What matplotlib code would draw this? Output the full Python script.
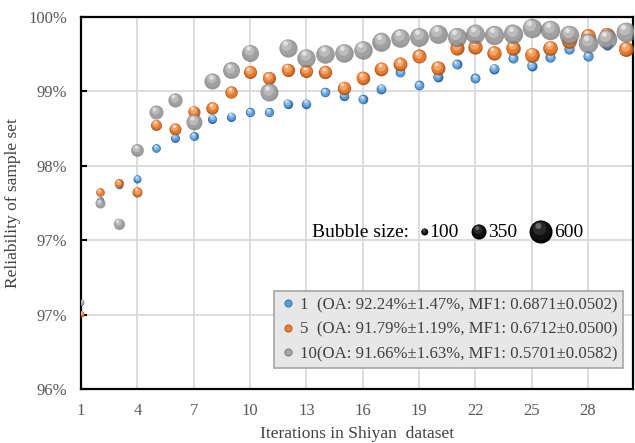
import matplotlib
matplotlib.use('Agg')
import matplotlib.pyplot as plt
from matplotlib.transforms import ScaledTranslation
from matplotlib.offsetbox import AnchoredOffsetbox, HPacker, TextArea, DrawingArea
from matplotlib.patches import Circle
from matplotlib.lines import Line2D

# data
iterations = list(range(1, 31))

blue_rel = [96.73, 97.91, 98.08, 98.15, 98.50, 98.62, 98.64, 98.84, 98.86, 98.91,
            98.91, 99.01, 99.01, 99.14, 99.10, 99.06, 99.18, 99.37, 99.22, 99.32,
            99.46, 99.30, 99.41, 99.53, 99.44, 99.54, 99.63, 99.55, 99.68, 99.64]
orange_rel = [96.61, 98.00, 98.10, 98.00, 98.77, 98.72, 98.92, 98.96, 99.14, 99.37,
              99.30, 99.40, 99.38, 99.37, 99.19, 99.30, 99.41, 99.46, 99.55, 99.42,
              99.65, 99.66, 99.59, 99.65, 99.57, 99.65, 99.73, 99.78, 99.79, 99.63]
gray_rel = [96.74, 97.87, 97.64, 98.48, 98.91, 99.05, 98.80, 99.27, 99.39, 99.59,
            99.14, 99.65, 99.53, 99.58, 99.59, 99.62, 99.72, 99.76, 99.77, 99.81,
            99.77, 99.81, 99.79, 99.81, 99.87, 99.85, 99.79, 99.70, 99.75, 99.83]

blue_size = [40, 100, 120, 130, 150, 160, 160, 165, 165, 170,
             170, 175, 175, 180, 180, 180, 185, 185, 185, 190,
             190, 190, 195, 195, 195, 200, 200, 200, 200, 205]
orange_size = [70, 150, 160, 195, 225, 255, 260, 270, 270, 290,
               290, 295, 295, 300, 300, 305, 310, 315, 320, 320,
               325, 330, 330, 335, 340, 340, 345, 345, 350, 350]
gray_size = [70, 195, 225, 280, 320, 325, 380, 385, 410, 415,
             445, 450, 455, 460, 460, 460, 465, 465, 470, 470,
             480, 480, 485, 485, 490, 490, 490, 495, 495, 500]

series_labels = ['1  (OA: 92.24%\u00b11.47%, MF1: 0.6871\u00b10.0502)',
                 '5  (OA: 91.79%\u00b11.19%, MF1: 0.6712\u00b10.0500)',
                 '10(OA: 91.66%\u00b11.63%, MF1: 0.5701\u00b10.0582)']
bubble_legend_sizes = [100, 350, 600]

y_ticks = [95.75, 96.6, 97.45, 98.3, 99.15, 100]
x_ticks = list(range(1, 30, 3))

# colours: dark rim, body, light, highlight
blue_cols = ['#2f6aa3', '#5b9bd5', '#8fbde6', '#d6e8f7']
orange_cols = ['#a9531b', '#ed7d31', '#f4a76e', '#fbe0c9']
gray_cols = ['#6f6f6f', '#a5a5a5', '#c6c6c6', '#f0f0f0']
black_cols = ['#000000', '#111111', '#2a2a2a', '#6a6a6a']

serif = 'Liberation Serif'


def diam_pt(size):
    # bubble width grows linearly with size (px), converted to points
    return (3.8 + 0.032 * size) * 72 / 100


layers = [(1.0, 0.0), (0.86, 0.06), (0.58, 0.15), (0.26, 0.26)]


def draw_ball(ax, fig, x, y, size, cols, alpha):
    d = diam_pt(size)
    for (f, off), c in zip(layers, cols):
        tr = ax.transData + ScaledTranslation(-0.45 * off * d / 72, off * d / 72,
                                              fig.dpi_scale_trans)
        ax.scatter([x], [y], s=(f * d) ** 2, color=c, lw=0, transform=tr,
                   alpha=alpha, zorder=3)


fig = plt.figure(figsize=(6.35, 4.43), dpi=100)
ax = fig.add_axes([0.1276, 0.1219, 0.8693, 0.8397])

ax.set_xlim(1, 30.4)
ax.set_ylim(95.75, 100)

for rel, size, cols, alpha in [(blue_rel, blue_size, blue_cols, 1.0),
                               (orange_rel, orange_size, orange_cols, 0.92),
                               (gray_rel, gray_size, gray_cols, 0.72)]:
    for x, y, s in zip(iterations, rel, size):
        draw_ball(ax, fig, x, y, s, cols, alpha)

ax.set_yticks(y_ticks)
ax.set_yticklabels(['{:.0f}%'.format(v) for v in y_ticks])
ax.set_xticks(x_ticks)
ax.grid(color='#d9d9d9', lw=1.3)
ax.set_axisbelow(True)
ax.tick_params(axis='y', direction='in', length=4, width=1.5, color='black',
               labelcolor='#595959', labelsize=12, pad=10)
ax.tick_params(axis='x', length=0, labelcolor='#595959', labelsize=12, pad=10)
for lab in ax.get_xticklabels() + ax.get_yticklabels():
    lab.set_family(serif)
for sp in ax.spines.values():
    sp.set_color('black')
    sp.set_linewidth(1.6)

ax.set_ylabel('Reliability of sample set', family=serif, fontsize=12.5,
              color='#404040', labelpad=5)
ax.set_xlabel('Iterations in Shiyan  dataset', family=serif, fontsize=12.5,
              color='#404040', labelpad=5)

# series legend
handles = [Line2D([], [], ls='none', marker='o', markersize=5.2,
                  markerfacecolor=c[1], markeredgecolor=c[0], markeredgewidth=0.6)
           for c in [blue_cols, orange_cols, gray_cols]]
leg = ax.legend(handles, series_labels, loc='lower right',
                bbox_to_anchor=(0.982, 0.0565), borderaxespad=0,
                prop={'family': serif, 'size': 12.1},
                labelcolor='#404040', facecolor='#e7e7e7', edgecolor='#a6a6a6',
                framealpha=1, fancybox=False, handlelength=0.9, handletextpad=0.25,
                labelspacing=0.5, borderpad=0.35)
leg.get_frame().set_linewidth(1.2)

# bubble size legend
items = [TextArea('Bubble size:', textprops=dict(family=serif, size=14, color='black'))]
for s in bubble_legend_sizes:
    d = diam_pt(s)
    da = DrawingArea(d, d, 0, 0)
    for (f, off), c in zip(layers, black_cols):
        da.add_artist(Circle((d / 2 - 0.45 * off * d, d / 2 + off * d), f * d / 2,
                             color=c, lw=0))
    txt = TextArea(str(s), textprops=dict(family=serif, size=14, color='black'))
    items.append(HPacker(children=[da, txt], sep=1, align='center'))
box = HPacker(children=items, sep=9, align='center')
anchored = AnchoredOffsetbox(loc='center left', child=box, pad=0, borderpad=0,
                             frameon=False, bbox_to_anchor=(0.418, 0.422),
                             bbox_transform=ax.transAxes)
ax.add_artist(anchored)

fig.savefig('out.png', dpi=100)
